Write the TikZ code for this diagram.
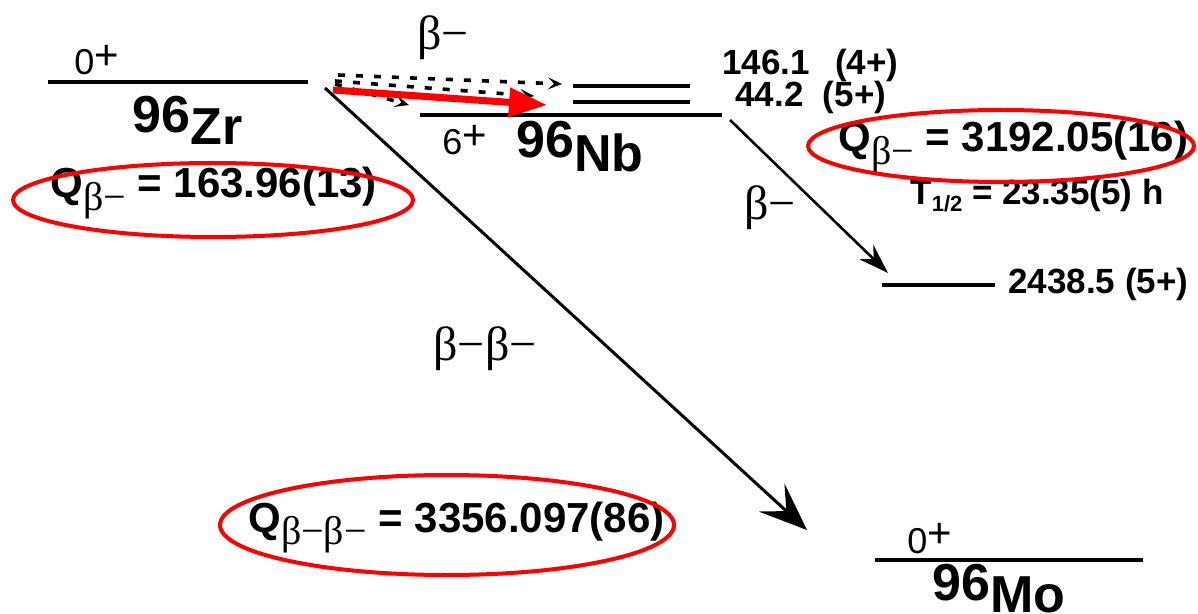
\documentclass[tikz,border=0pt]{standalone}
\usepackage{fontspec}
\setmainfont{Liberation Sans}
\newfontfamily\grk{Liberation Serif}
\usetikzlibrary{arrows.meta}
\tikzset{
  level/.style={line width=1.8pt},
  lbl/.style={inner sep=0pt, font=\bfseries\fontsize{17.5}{17.5}\selectfont},
  qlbl/.style={inner sep=0pt, font=\bfseries\fontsize{21}{21}\selectfont},
  spin/.style={inner sep=0pt, font=\fontsize{18}{18}\selectfont},
  nuc/.style={inner sep=0pt, font=\bfseries\fontsize{26}{26}\selectfont},
  blbl/.style={inner sep=0pt, font=\grk\fontsize{24}{24}\selectfont},
  bigdecay/.style={line width=1.5pt, -{Stealth[length=24pt,width=19pt,inset=10pt]}},
  decay/.style={line width=1.3pt, -{Stealth[length=15pt,width=10pt,inset=5pt]}},
  feed/.style={line width=1.8pt, dash pattern=on 3.5pt off 5.5pt, -{Stealth[length=7pt,width=6pt,inset=3pt,line width=0.6pt]}},
  ring/.style={red, line width=2pt},
  redarrow/.style={red, line width=3.5pt, -{Triangle[length=19pt,width=14pt]}}
}
\newcommand{\bminus}{{\grk\mdseries β−}}
\newcommand{\plussup}{\raisebox{0.14em}{\fontsize{21}{21}\selectfont+}}
\begin{document}
\begin{tikzpicture}[x=0.5pt,y=-0.5pt]
\useasboundingbox (0,0) rectangle (1198,614);
% levels
\coordinate (zrL) at (48,82);  \coordinate (zrR) at (308,82);
\coordinate (nbgL) at (420,115); \coordinate (nbgR) at (722,115);
\coordinate (nbaL) at (573,86); \coordinate (nbaR) at (690,86);
\coordinate (nbbL) at (573,102); \coordinate (nbbR) at (690,102);
\coordinate (moL) at (875,560); \coordinate (moR) at (1143,560);
\coordinate (exL) at (882,285); \coordinate (exR) at (995,285);
\draw[level] (zrL) -- (zrR);
\draw[level] (nbgL) -- (nbgR);
\draw[level] (nbaL) -- (nbaR);
\draw[level] (nbbL) -- (nbbR);
\draw[level] (moL) -- (moR);
\draw[level] (exL) -- (exR);
% labels
\node[spin, anchor=base west] (zrspin) at (74,75) {0\plussup};
\node[nuc, anchor=base west] (zrname) at (132,145) {\raisebox{6pt}{96}Zr};
\node[spin, anchor=base west] (nbspin) at (442,155) {6\plussup};
\node[nuc, anchor=base west] (nbname) at (516,172) {\raisebox{7pt}{96}Nb};
\node[spin, anchor=base west] (mospin) at (907,553) {0\plussup};
\node[nuc, anchor=base west] (moname) at (932,612) {\raisebox{6pt}{96}Mo};
\node[lbl, anchor=base west] (la) at (722,75) {146.1\ \ \,(4+)};
\node[lbl, anchor=base west] (lb) at (735,107) {44.2\ \ (5+)};
\node[lbl, anchor=base west] (lc) at (1008,294) {2438.5 (5+)};
\node[qlbl, anchor=base west] (q1) at (50,198) {Q\raisebox{-0.3em}{\fontsize{20}{20}\selectfont\bminus} = 163.96(13)};
\node[qlbl, anchor=base west] (q2) at (838,152) {Q\raisebox{-0.3em}{\fontsize{20}{20}\selectfont\bminus} = 3192.05(16)};
\node[lbl, anchor=base west] (thalf) at (910,205) {T\raisebox{-0.2em}{\fontsize{11}{11}\selectfont 1/2} = 23.35(5) h};
\node[qlbl, anchor=base west] (q3) at (248,532) {Q\raisebox{-0.3em}{\fontsize{20}{20}\selectfont\bminus\bminus} = 3356.097(86)};
\node[blbl, anchor=base] (b1) at (443,50) {\bminus};
\node[blbl, anchor=base] (b2) at (770,220) {\bminus};
\node[blbl, anchor=base] (b3) at (485,360) {\bminus\bminus};
% transitions
\coordinate (ddstart) at (325,88); \coordinate (ddend) at (807,530);
\draw[bigdecay] (ddstart) -- (ddend);
\coordinate (nbdstart) at (730,120); \coordinate (nbdend) at (888,273);
\draw[decay] (nbdstart) -- (nbdend);
\coordinate (f1s) at (338,75); \coordinate (f1e) at (562,84);
\coordinate (f2s) at (335,81); \coordinate (f2e) at (534,96);
\coordinate (f3s) at (335,84); \coordinate (f3e) at (409,105);
\draw[feed] (f1s) -- (f1e);
\draw[feed] (f2s) -- (f2e);
\draw[feed] (f3s) -- (f3e);
\coordinate (rs) at (333,90); \coordinate (re) at (547,105);
\draw[redarrow] (rs) -- (re);
% red ellipses
\draw[ring] (213,200) ellipse [x radius=200, y radius=37];
\draw[ring] (1001,146) ellipse [x radius=193, y radius=36];
\draw[ring] (447,525) ellipse [x radius=227, y radius=50];
\end{tikzpicture}
\end{document}
